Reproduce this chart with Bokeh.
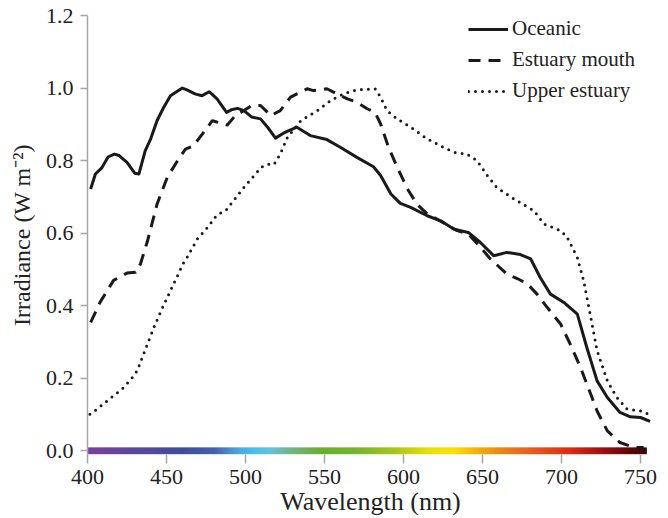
import numpy as np
from bokeh.plotting import figure
from bokeh.models import Range1d, FixedTicker, NumeralTickFormatter
from bokeh.embed import file_html
from bokeh.resources import INLINE

# ---- data ----
oceanic_nm = [402, 405, 409, 413, 417, 420, 425, 430, 432.5, 436.5, 440, 444, 448, 452.5, 460, 463,
              468, 472.5, 477, 482, 488, 491, 495, 499, 504, 509.5, 514, 519, 525, 532.5, 541, 551.5,
              560, 570.5, 581, 585.5, 592, 598, 604.5, 615, 623.5, 632, 641, 648.5, 657, 665.5, 674,
              680.5, 686.5, 693, 701.5, 710, 716, 722.5, 729, 737, 743.5, 750, 756]
oceanic_irr = [0.722, 0.763, 0.78, 0.81, 0.818, 0.814, 0.795, 0.765, 0.763, 0.827, 0.86, 0.91, 0.945,
               0.979, 1.0, 0.995, 0.984, 0.979, 0.99, 0.970, 0.933, 0.94, 0.944, 0.938, 0.92, 0.915,
               0.892, 0.862, 0.878, 0.892, 0.869, 0.858, 0.837, 0.809, 0.783, 0.759, 0.708, 0.682,
               0.671, 0.648, 0.634, 0.611, 0.602, 0.575, 0.538, 0.547, 0.541, 0.529, 0.478, 0.432,
               0.409, 0.377, 0.285, 0.193, 0.147, 0.106, 0.094, 0.092, 0.081]

mouth_nm = [402, 408, 416.5, 425, 430.5, 433.5, 438, 444, 450.5, 457, 462, 467, 473.5, 479, 488.5,
            493.5, 499, 504, 509.5, 516, 522, 528.5, 539, 543, 551.5, 556, 564.5, 570.5, 577, 582,
            585.5, 590.5, 596, 602.5, 608.5, 615, 624, 634, 641, 648, 655, 665.5, 672, 678.5, 684.5,
            691, 699.5, 705.5, 712, 718.5, 722.5, 729, 737, 746, 752]
mouth_irr = [0.354, 0.41, 0.47, 0.49, 0.492, 0.515, 0.579, 0.68, 0.754, 0.80, 0.832, 0.841, 0.878,
             0.91, 0.898, 0.924, 0.938, 0.952, 0.952, 0.924, 0.938, 0.975, 0.998, 0.993, 0.998,
             0.988, 0.97, 0.961, 0.943, 0.933, 0.901, 0.837, 0.782, 0.722, 0.68, 0.653, 0.632,
             0.607, 0.598, 0.565, 0.529, 0.487, 0.475, 0.46, 0.432, 0.395, 0.349, 0.294, 0.23,
             0.156, 0.11, 0.055, 0.023, 0.009, 0.009]

upper_nm = [401.5, 406, 412.5, 418, 423, 428, 431.5, 435.5, 442, 447.5, 454.5, 461, 463, 469.5, 476,
            482, 487.5, 492.5, 499, 505.5, 510, 514, 518, 522, 526.5, 535, 545.5, 554, 562, 570.5,
            582, 585.5, 589.5, 596, 604.5, 615, 625, 632, 640, 646.5, 653, 659, 670, 682.5, 689,
            699.5, 703.5, 710, 714, 718.5, 722.5, 729, 735, 741.5, 750, 755]
upper_irr = [0.101, 0.115, 0.138, 0.157, 0.175, 0.2, 0.221, 0.267, 0.34, 0.395, 0.46, 0.52, 0.533,
             0.584, 0.616, 0.651, 0.662, 0.69, 0.726, 0.759, 0.782, 0.79, 0.789, 0.818, 0.864, 0.91,
             0.938, 0.966, 0.984, 0.995, 0.998, 0.975, 0.938, 0.915, 0.892, 0.86, 0.837, 0.823,
             0.818, 0.80, 0.759, 0.726, 0.694, 0.662, 0.625, 0.607, 0.589, 0.533, 0.469, 0.368,
             0.276, 0.193, 0.147, 0.115, 0.11, 0.101]

series_names = ["Oceanic", "Estuary mouth", "Upper estuary"]

# visible-spectrum colour stops for the bar along the x axis
spectrum_nm = [400, 430, 460, 480, 495, 505, 515, 530, 548, 570, 595, 615, 632, 645, 660, 685, 705,
               725, 740, 754]
spectrum_col = ["#7b3f99", "#5a479d", "#3f4c9c", "#4760ae", "#4aa6dd", "#45c0ee", "#62c2df",
                "#72b47e", "#6aae2c", "#74b52a", "#a9c61a", "#e6e000", "#fde100", "#f8b400",
                "#ee8a12", "#e8531e", "#e22a12", "#a30f0f", "#6a0808", "#3a0505"]

y_ticks = [0.0, 0.2, 0.4, 0.6, 0.8, 1.0, 1.2]
x_ticks = [400, 450, 500, 550, 600, 650, 700, 750]


def hex_rgb(h):
    h = h.lstrip("#")
    return [int(h[i:i + 2], 16) for i in (0, 2, 4)]


# spectrum bar as one RGBA image, colours blended between the stops
stops_rgb = np.array([hex_rgb(c) for c in spectrum_col], dtype=float)
samples = np.linspace(spectrum_nm[0], spectrum_nm[-1], 708)
rgb = np.stack([np.interp(samples, spectrum_nm, stops_rgb[:, k]) for k in range(3)], axis=1)
rgba = np.zeros((1, len(samples)), dtype=np.uint32)
view = rgba.view(dtype=np.uint8).reshape((1, len(samples), 4))
view[0, :, 0] = rgb[:, 0].round().astype(np.uint8)
view[0, :, 1] = rgb[:, 1].round().astype(np.uint8)
view[0, :, 2] = rgb[:, 2].round().astype(np.uint8)
view[0, :, 3] = 255

FONT = "Liberation Serif"
INK = "#1a1a1a"
GREY = "#a6a6a6"

p = figure(width=668, height=518, output_backend="svg", toolbar_location=None,
           x_range=Range1d(400, 758.2), y_range=Range1d(-0.01, 1.2),
           min_border_left=87, min_border_right=15, min_border_top=15, min_border_bottom=64)
p.outline_line_color = None
p.xgrid.visible = False
p.ygrid.visible = False
p.background_fill_color = "white"
p.border_fill_color = "white"

p.image_rgba(image=[rgba], x=spectrum_nm[0], y=-0.0097, dw=spectrum_nm[-1] - spectrum_nm[0],
             dh=0.0194)

p.line(oceanic_nm, oceanic_irr, line_color=INK, line_width=3, line_join="round",
       legend_label=series_names[0])
p.line(mouth_nm, mouth_irr, line_color=INK, line_width=3, line_dash="12 8", line_join="round",
       legend_label=series_names[1])
p.line(upper_nm, upper_irr, line_color=INK, line_width=3, line_dash="0 7", line_cap="round",
       legend_label=series_names[2])

# axes
xa = p.xaxis[0]
xa.ticker = FixedTicker(ticks=x_ticks)
xa.axis_line_color = None
xa.major_tick_line_color = GREY
xa.major_tick_line_width = 1.5
xa.major_tick_out = 9
xa.major_tick_in = 0
xa.minor_tick_line_color = None
xa.major_label_text_font = FONT
xa.major_label_text_font_size = "22px"
xa.major_label_text_color = "#222222"
xa.major_label_standoff = 6
xa.axis_label = "Wavelength (nm)"
xa.axis_label_text_font = FONT
xa.axis_label_text_font_size = "26px"
xa.axis_label_text_font_style = "normal"
xa.axis_label_text_color = "#222222"
xa.axis_label_standoff = 0

ya = p.yaxis[0]
ya.ticker = FixedTicker(ticks=y_ticks)
ya.formatter = NumeralTickFormatter(format="0.0")
ya.axis_line_color = GREY
ya.axis_line_width = 1.5
ya.major_tick_line_color = GREY
ya.major_tick_line_width = 1.5
ya.major_tick_out = 7
ya.major_tick_in = 0
ya.minor_tick_line_color = None
ya.major_label_text_font = FONT
ya.major_label_text_font_size = "22px"
ya.major_label_text_color = "#222222"
ya.major_label_standoff = 7
ya.axis_label = "Irradiance (W m\u207b\u00b2)"
ya.axis_label_text_font = FONT
ya.axis_label_text_font_size = "24px"
ya.axis_label_text_font_style = "normal"
ya.axis_label_text_color = "#222222"
ya.axis_label_standoff = 8

lg = p.legend[0]
lg.location = (381, 351)
lg.border_line_color = None
lg.background_fill_alpha = 0
lg.padding = 0
lg.margin = 0
lg.spacing = 6
lg.glyph_width = 40
lg.label_standoff = 4
lg.label_text_font = FONT
lg.label_text_font_size = "21px"
lg.label_text_color = "#222222"

open("out.html", "w").write(file_html(p, INLINE))
